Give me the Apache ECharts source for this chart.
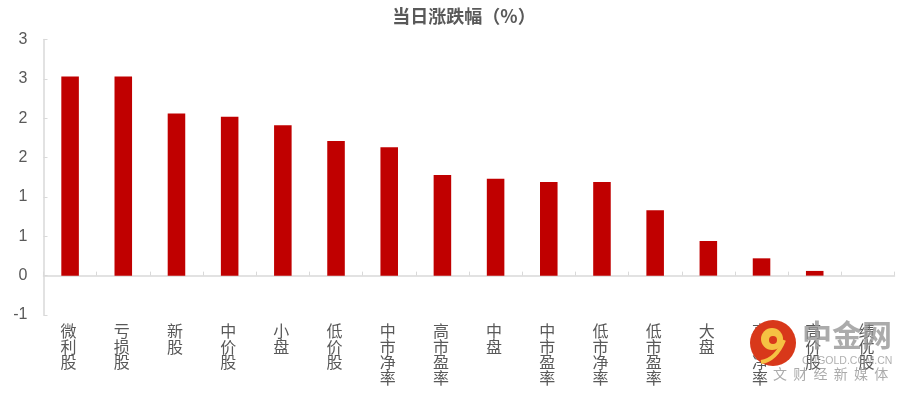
<!DOCTYPE html>
<html><head><meta charset="utf-8">
<style>html,body{margin:0;padding:0;background:#fff}#c{width:907px;height:393px}</style>
<script src="https://cdn.jsdelivr.net/npm/echarts@6/dist/echarts.min.js"></script>
</head><body><div id="c"></div>
<script>
const titleText = '当日涨跌幅（%）';
const categories = ['微利股','亏损股','新股','中价股','小盘','低价股','中市净率','高市盈率','中盘','中市盈率','低市净率','低市盈率','大盘','高市净率','高价股','绩优股'];
const values = [2.53,2.53,2.06,2.02,1.91,1.71,1.63,1.28,1.23,1.19,1.19,0.83,0.44,0.22,0.06,0];
const FONT = '"Noto Sans CJK SC","Liberation Sans",sans-serif';
const chart = echarts.init(document.getElementById('c'), null, {renderer:'canvas'});
chart.setOption({
  animation:false,
  backgroundColor:'#fff',
  title:{text:titleText,left:459,top:2,textAlign:'center',
    textStyle:{fontFamily:FONT,fontSize:18,fontWeight:'bold',color:'#595959'}},
  grid:{left:43.5,right:12.5,top:39.5,bottom:78,containLabel:false,outerBoundsMode:'none'},
  xAxis:{type:'category',data:categories,
    axisLine:{onZero:true,lineStyle:{color:'#d9d9d9',width:1.5}},
    axisTick:{show:true,inside:true,length:4,alignWithLabel:false,lineStyle:{color:'#d9d9d9'}},
    axisLabel:{interval:0,margin:8,color:'#595959',fontFamily:FONT,fontSize:16,lineHeight:15.7,
      verticalAlign:'top',hideOverlap:false,padding:[0,3,0,0],formatter:v=>v.split('').join('\n')}},
  yAxis:{type:'value',min:-0.5,max:3,interval:0.5,
    splitLine:{show:false},
    axisLine:{show:true,lineStyle:{color:'#d9d9d9',width:1.5}},
    axisTick:{show:true,inside:true,length:4,lineStyle:{color:'#d9d9d9'}},
    axisLabel:{margin:16,color:'#595959',fontFamily:'"Liberation Sans",sans-serif',fontSize:16,
      formatter:v=>v<0?String(-Math.round(-v)):String(Math.round(v))}},
  series:[{type:'bar',data:values,barWidth:'33%',itemStyle:{color:'#c00000'}}],
  graphic:[
    {type:'circle',shape:{cx:773,cy:343,r:23},style:{fill:'#d8381a'},z:10},
    {type:'circle',shape:{cx:772,cy:339,r:11},style:{fill:'#f5c243'},z:11},
    {type:'circle',shape:{cx:773,cy:340,r:4},style:{fill:'#d8381a'},z:12},
    {type:'bezierCurve',shape:{x1:761,y1:362,cpx1:776,cpy1:360,x2:784,y2:340},style:{stroke:'#f5c243',fill:null,lineWidth:4},z:11},
    {type:'text',style:{x:802,y:320,text:'中金网',font:'bold 30px "Noto Sans CJK SC"',fill:'rgba(150,150,150,0.8)'},z:10},
    {type:'text',style:{x:802,y:356,text:'CNGOLD.COM.CN',font:'10.5px "Liberation Sans"',fill:'rgba(150,150,150,0.75)'},z:10},
    {type:'text',style:{x:773,y:367,text:'文  财  经  新  媒  体',font:'14px "Noto Sans CJK SC"',fill:'rgba(150,150,150,0.8)'},z:10}
  ]
});
</script></body></html>
